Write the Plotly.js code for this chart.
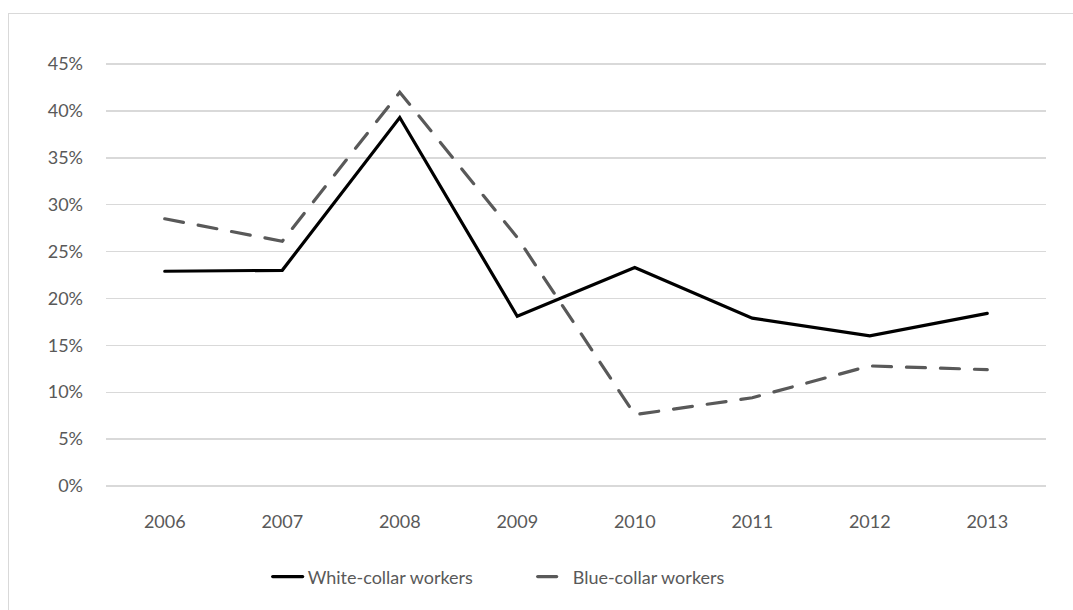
<!DOCTYPE html>
<html>
<head>
<meta charset="utf-8">
<script src="https://cdn.plot.ly/plotly-3.0.1.min.js"></script>
<style>
  html, body { margin: 0; padding: 0; background: #fff; }
  #wrap { position: relative; width: 1073px; height: 610px; overflow: hidden; }
  #chart { width: 1073px; height: 610px; }
  #frame { position: absolute; left: 8px; top: 13px; width: 1070px; height: 610px;
           border: 1px solid #d9d9d9; box-sizing: border-box; pointer-events: none; }
  .scatterlayer path.js-line, .legendlines path { stroke-linecap: round; stroke-linejoin: miter; }
</style>
</head>
<body>
<div id="wrap">
  <div id="chart"></div>
  <div id="frame"></div>
</div>
<script>
const years = ["2006", "2007", "2008", "2009", "2010", "2011", "2012", "2013"];
const whiteCollar = [0.229, 0.230, 0.393, 0.181, 0.233, 0.179, 0.160, 0.184];
const blueCollar  = [0.285, 0.261, 0.420, 0.265, 0.076, 0.094, 0.128, 0.124];
const yTickVals = [0, 0.05, 0.10, 0.15, 0.20, 0.25, 0.30, 0.35, 0.40, 0.45];
const yTickText = ["0%", "5%", "10%", "15%", "20%", "25%", "30%", "35%", "40%", "45%"];

const font = { family: "Lato, 'Open Sans', sans-serif", size: 18, color: "#595959" };

const traces = [
  { x: years, y: whiteCollar, type: "scatter", mode: "lines", name: "White-collar workers",
    line: { color: "#000000", width: 3.2 } },
  { x: years, y: blueCollar, type: "scatter", mode: "lines", name: "Blue-collar workers",
    line: { color: "#595959", width: 3.2, dash: "19px,15px" } }
];

const layout = {
  width: 1073, height: 610,
  margin: { l: 106, r: 27, t: 63, b: 123 },
  paper_bgcolor: "#ffffff", plot_bgcolor: "#ffffff",
  font: font,
  showlegend: true,
  legend: { orientation: "h", x: 0.172, xanchor: "left", y: -0.212, yanchor: "middle",
            font: font, itemwidth: 30, traceorder: "normal", entrywidth: 220 },
  xaxis: { type: "category", range: [-0.5, 7.5], showgrid: false,
           zeroline: false, showline: false, ticks: "", ticklabelstandoff: 22,
           tickfont: font, fixedrange: true },
  yaxis: { range: [-0.0012, 0.4512], tickvals: yTickVals, ticktext: yTickText,
           showgrid: true, gridcolor: "#d9d9d9", gridwidth: 1.3, zeroline: false,
           showline: false, ticks: "", ticklabelstandoff: 22, tickfont: font, fixedrange: true }
};

Plotly.newPlot("chart", traces, layout, { displayModeBar: false, staticPlot: true });
</script>
</body>
</html>
